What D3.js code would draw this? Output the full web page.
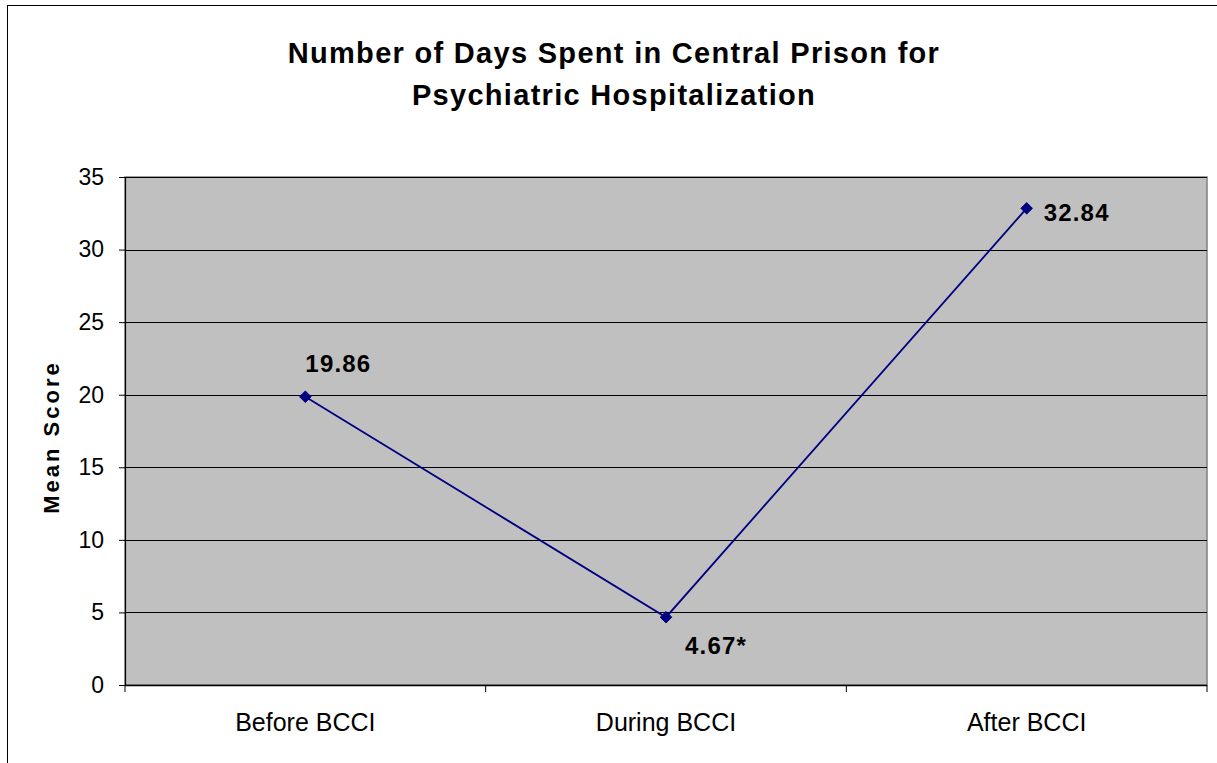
<!DOCTYPE html>
<html>
<head>
<meta charset="utf-8">
<script src="https://cdn.jsdelivr.net/npm/d3@7"></script>
<style>
  html, body { margin: 0; padding: 0; background: #fff; }
  svg { display: block; font-family: "Liberation Sans", Arial, sans-serif; }
</style>
</head>
<body>
<svg id="chart" width="1217" height="763"></svg>
<script>
const categories = ["Before BCCI", "During BCCI", "After BCCI"];
const meanScores = [19.86, 4.67, 32.84];
const valueLabels = ["19.86", "4.67*", "32.84"];
const yTicks = [0, 5, 10, 15, 20, 25, 30, 35];
const titleLines = ["Number of Days Spent in Central Prison for", "Psychiatric Hospitalization"];
const yAxisTitle = "Mean Score";

const svg = d3.select("#chart");
const plot = { left: 125, top: 177, right: 1207, bottom: 685 };

// Chart frame (only top and left edges fall inside the canvas)
svg.append("rect")
  .attr("x", 7.5).attr("y", 5.5)
  .attr("width", 1240).attr("height", 800)
  .attr("fill", "#fff").attr("stroke", "#000").attr("stroke-width", 1);

// Title
svg.append("g").selectAll("text").data(titleLines).join("text")
  .attr("x", 614).attr("y", (d, i) => 63 + i * 42)
  .attr("text-anchor", "middle")
  .attr("font-size", 29).attr("font-weight", "bold")
  .attr("letter-spacing", 1.3)
  .text(d => d);

const x = d3.scaleBand().domain(categories).range([plot.left, plot.right]).padding(0);
const y = d3.scaleLinear().domain([0, 35]).range([plot.bottom, plot.top]);

// Plot area
svg.append("rect")
  .attr("x", plot.left).attr("y", plot.top)
  .attr("width", plot.right - plot.left).attr("height", plot.bottom - plot.top)
  .attr("fill", "#c0c0c0").attr("stroke", "#808080").attr("stroke-width", 1.5);

// Gridlines
svg.append("g").selectAll("line").data(yTicks.filter(t => t > 0)).join("line")
  .attr("x1", plot.left).attr("x2", plot.right)
  .attr("y1", d => Math.round(y(d)) + 0.5).attr("y2", d => Math.round(y(d)) + 0.5)
  .attr("stroke", "#000").attr("stroke-width", 1);

// Y axis
const yAxis = svg.append("g")
  .attr("transform", `translate(${plot.left},0)`)
  .call(d3.axisLeft(y).tickValues(yTicks).tickSize(6).tickPadding(15).tickFormat(d3.format("d")));
yAxis.select(".domain").attr("stroke", "#000").attr("stroke-width", 1.2);
yAxis.selectAll(".tick line").attr("stroke", "#000");
yAxis.selectAll(".tick text").attr("font-size", 23).attr("fill", "#000")
  .attr("font-family", "Liberation Sans, Arial, sans-serif");

// X axis with ticks at category boundaries
const xAxisG = svg.append("g").attr("transform", `translate(0,${plot.bottom})`);
xAxisG.append("line")
  .attr("x1", plot.left).attr("x2", plot.right)
  .attr("y1", 0.5).attr("y2", 0.5)
  .attr("stroke", "#000").attr("stroke-width", 1.5);
const boundaries = categories.map(c => x(c)).concat([x(categories[categories.length - 1]) + x.bandwidth()]);
xAxisG.selectAll("line.tick").data(boundaries).join("line")
  .attr("class", "tick")
  .attr("x1", d => d).attr("x2", d => d)
  .attr("y1", 0).attr("y2", 7)
  .attr("stroke", "#000").attr("stroke-width", 1);
xAxisG.selectAll("text").data(categories).join("text")
  .attr("x", d => x(d) + x.bandwidth() / 2)
  .attr("y", 46)
  .attr("text-anchor", "middle")
  .attr("font-size", 25)
  .text(d => d);

// Y axis title
svg.append("text")
  .attr("transform", `translate(59,${(plot.top + plot.bottom) / 2 + 6}) rotate(-90)`)
  .attr("text-anchor", "middle")
  .attr("font-size", 22).attr("font-weight", "bold")
  .attr("letter-spacing", 3)
  .text(yAxisTitle);

// Series line
const points = categories.map((c, i) => ({ c, v: meanScores[i], label: valueLabels[i] }));
const cx = d => x(d.c) + x.bandwidth() / 2;
svg.append("path")
  .datum(points)
  .attr("fill", "none").attr("stroke", "#000080").attr("stroke-width", 1.8)
  .attr("d", d3.line().x(cx).y(d => y(d.v)));

// Diamond markers
svg.append("g").selectAll("path").data(points).join("path")
  .attr("transform", d => `translate(${cx(d)},${y(d.v)})`)
  .attr("d", d3.symbol().type(d3.symbolDiamond2).size(85))
  .attr("fill", "#000080").attr("stroke", "#000080").attr("stroke-width", 1);

// Value labels
const labelOffsets = [[0, -25], [19, 37], [17, 13]];
svg.append("g").selectAll("text").data(points).join("text")
  .attr("x", (d, i) => cx(d) + labelOffsets[i][0])
  .attr("y", (d, i) => y(d.v) + labelOffsets[i][1])
  .attr("font-size", 24).attr("font-weight", "bold")
  .attr("letter-spacing", 1.2)
  .text(d => d.label);
</script>
</body>
</html>
